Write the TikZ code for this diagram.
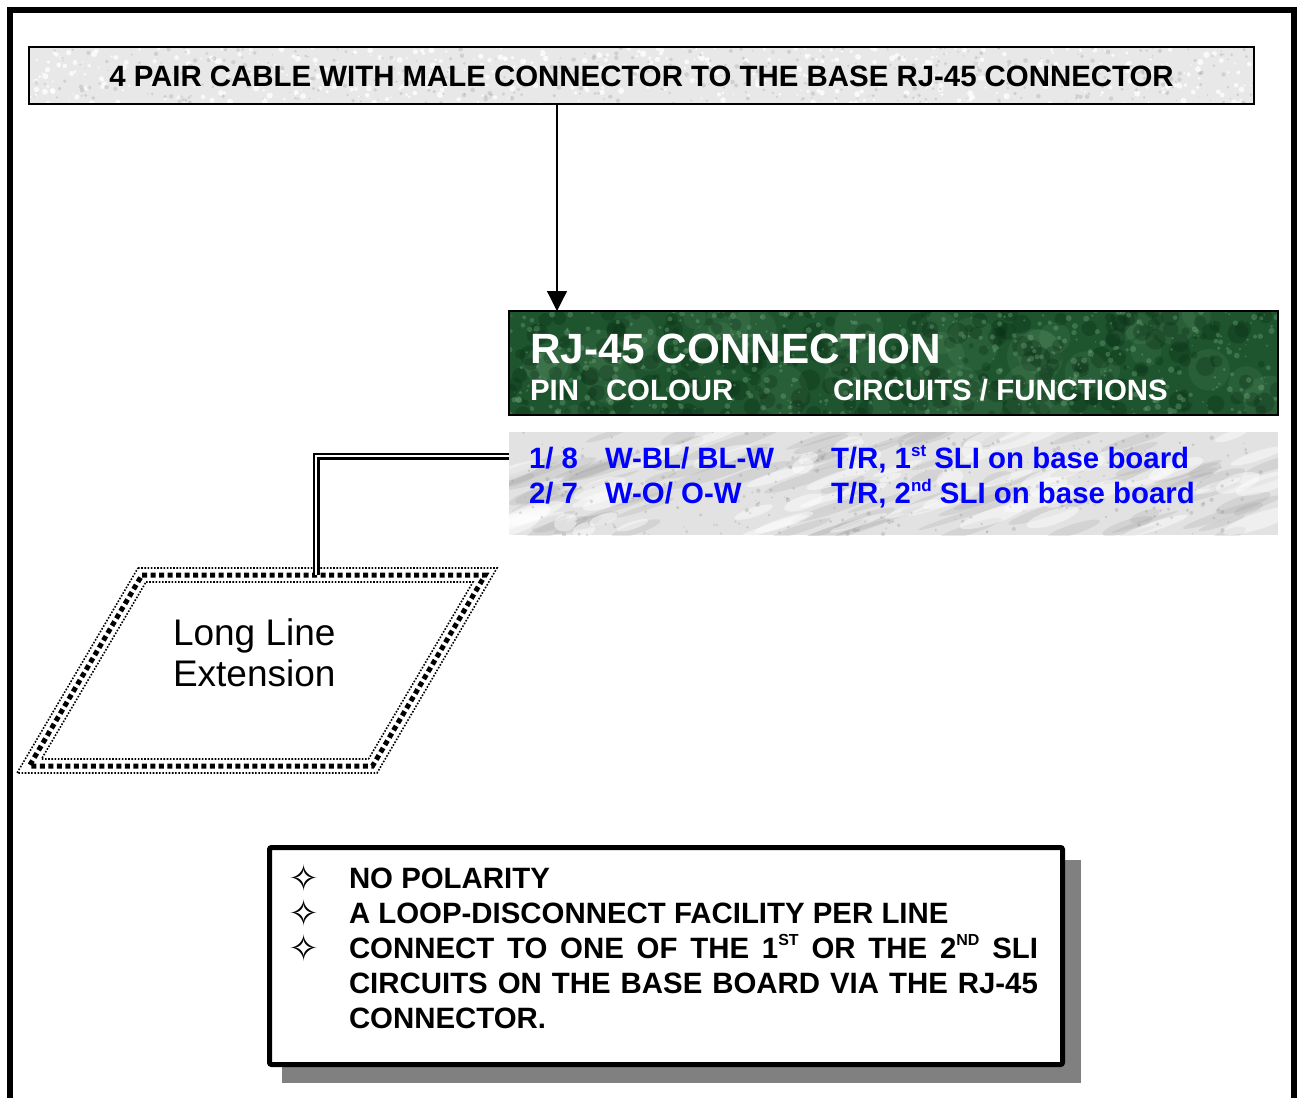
\documentclass[tikz,border=0pt]{standalone}
\usepackage{fontspec}
\setmainfont{Liberation Sans}
\newfontfamily\symfont{DejaVu Sans}
\usetikzlibrary{arrows.meta,calc}
\definecolor{rjgreen}{RGB}{30,84,46}
\definecolor{rjgreenlt}{RGB}{120,175,130}
\definecolor{rjgreendk}{RGB}{8,45,20}
\definecolor{marble}{RGB}{226,226,226}
\definecolor{speck}{RGB}{232,232,232}
\definecolor{rjblue}{RGB}{0,0,255}
\definecolor{shadowgray}{RGB}{128,128,128}
\newcommand\fs[1]{\fontsize{#1}{#1}\selectfont}
\newcommand\supt[1]{\raisebox{12pt}{\fontsize{17}{17}\selectfont #1}}
\newcommand\supc[1]{\raisebox{13pt}{\fontsize{16}{16}\selectfont #1}}
\begin{document}
\begin{tikzpicture}[x=1pt,y=-1pt,
  box/.style={inner sep=0pt, outer sep=0pt},
  txt/.style={inner sep=0pt, outer sep=0pt, anchor=base west},
  bigbold/.style={font=\fs{29.4}\bfseries},
  arr/.style={line width=1.3pt, -{Triangle[length=20pt,width=20pt]}},
  dbl/.style={double=white, double distance=2pt, line width=2.5pt},
  dotline/.style={line width=1.6pt, dash pattern=on 1.6pt off 1.6pt},
  sqline/.style={line width=5pt, dash pattern=on 5pt off 3.5pt}]
\useasboundingbox (0,0) rectangle (1297,1097);
\fill[white] (0,0) rectangle (1297,1097);
% outer frame
\draw[line width=6pt, line join=miter] (10,1100) -- (10,10) -- (1294,10) -- (1294,1100);

% ---------- title box
\node[box, minimum width=1225pt, minimum height=57pt, fill=speck] (title) at (641.5,75.5) {};
\begin{scope}
\clip (title.north west) rectangle (title.south east);
\pgfmathsetseed{11}
\foreach \i in {1,...,500}{
  \pgfmathsetmacro\px{29+1225*rnd}
  \pgfmathsetmacro\py{47+57*rnd}
  \pgfmathsetmacro\rr{0.8+2.4*rnd}
  \fill[white, opacity=.75] (\px,\py) circle[radius=\rr];
}
\foreach \i in {1,...,450}{
  \pgfmathsetmacro\px{29+1225*rnd}
  \pgfmathsetmacro\py{47+57*rnd}
  \pgfmathsetmacro\rr{0.6+1.8*rnd}
  \fill[gray!80, opacity=.3] (\px,\py) circle[radius=\rr];
}
\end{scope}
\draw[line width=1.5pt] (title.north west) rectangle (title.south east);
\node[inner sep=0pt, anchor=base, bigbold] (titletext) at (641.5,87)
  {4 PAIR CABLE WITH MALE CONNECTOR TO THE BASE RJ-45 CONNECTOR};

% ---------- green header
\node[box, minimum width=769pt, minimum height=104pt, fill=rjgreen] (hdr) at (893.5,363) {};
\begin{scope}
\clip (hdr.north west) rectangle (hdr.south east);
\pgfmathsetseed{5}
\foreach \i in {1,...,40}{
  \pgfmathsetmacro\px{509+769*rnd}
  \pgfmathsetmacro\py{311+104*rnd}
  \pgfmathsetmacro\rr{10+18*rnd}
  \fill[rjgreenlt, opacity=.13] (\px,\py) circle[radius=\rr];
}
\foreach \i in {1,...,260}{
  \pgfmathsetmacro\px{509+769*rnd}
  \pgfmathsetmacro\py{311+104*rnd}
  \pgfmathsetmacro\rr{2+9*rnd}
  \fill[rjgreendk, opacity=.3] (\px,\py) circle[radius=\rr];
}
\foreach \i in {1,...,500}{
  \pgfmathsetmacro\px{509+769*rnd}
  \pgfmathsetmacro\py{311+104*rnd}
  \pgfmathsetmacro\rr{0.7+2.5*rnd}
  \fill[rjgreenlt, opacity=.35] (\px,\py) circle[radius=\rr];
}
\end{scope}
\draw[line width=2pt] (hdr.north west) rectangle (hdr.south east);
\node[txt, font=\fs{42.3}\bfseries, text=white] (hdrtitle) at (530,363) {RJ-45 CONNECTION};
\node[txt, bigbold, text=white] (hpin) at (530,400) {PIN};
\node[txt, bigbold, text=white] (hcol) at (606,400) {COLOUR};
\node[txt, bigbold, text=white] (hfun) at (833,400) {CIRCUITS / FUNCTIONS};

% ---------- marble table
\node[box, minimum width=769pt, minimum height=103pt, fill=marble] (marb) at (893.5,483.5) {};
\begin{scope}
\clip (marb.north west) rectangle (marb.south east);
\pgfmathsetseed{23}
\foreach \i in {1,...,90}{
  \pgfmathsetmacro\px{509+769*rnd}
  \pgfmathsetmacro\py{432+103*rnd}
  \pgfmathsetmacro\ra{15+40*rnd}
  \pgfmathsetmacro\rb{2+5*rnd}
  \fill[gray!80, opacity=.2, rotate around={18:(\px,\py)}] (\px,\py) ellipse[x radius=\ra, y radius=\rb];
}
\foreach \i in {1,...,60}{
  \pgfmathsetmacro\px{509+769*rnd}
  \pgfmathsetmacro\py{432+103*rnd}
  \pgfmathsetmacro\ra{10+30*rnd}
  \pgfmathsetmacro\rb{3+6*rnd}
  \fill[white, opacity=.45, rotate around={18:(\px,\py)}] (\px,\py) ellipse[x radius=\ra, y radius=\rb];
}
\foreach \i in {1,...,300}{
  \pgfmathsetmacro\px{509+769*rnd}
  \pgfmathsetmacro\py{432+103*rnd}
  \pgfmathsetmacro\rr{0.6+1.6*rnd}
  \fill[gray, opacity=.25] (\px,\py) circle[radius=\rr];
}
\end{scope}
\begin{scope}[every node/.style={txt, bigbold, text=rjblue}]
\node (r1a) at (529,468) {1/ 8};
\node (r1b) at (605,468) {W-BL/ BL-W};
\node (r1c) at (831,468) {T/R, 1\supt{st} SLI on base board};
\node (r2a) at (529,503) {2/ 7};
\node (r2b) at (605,503) {W-O/ O-W};
\node (r2c) at (831,503) {T/R, 2\supt{nd} SLI on base board};
\end{scope}

% ---------- arrow from title to header
\coordinate (ax) at ($(hdr.north west)+(48,0)$);
\draw[arr] (title.south -| ax) -- (ax);

% ---------- long line extension parallelogram
\draw[dotline] (138,568) -- (497,568) -- (377,773) -- (17,773) -- cycle;
\draw[sqline] (142,575) -- (485.2,575) -- (372.5,766) -- (29.3,766) -- cycle;
\draw[dotline] (146,582) -- (473,582) -- (368.5,759) -- (41.5,759) -- cycle;
\coordinate (pgtop) at (316,575);
\node[txt, font=\fs{37}] (lle1) at (173,645) {Long Line};
\node[txt, font=\fs{37}] (lle2) at (173,686) {Extension};

% ---------- double-line connector
\coordinate (jn) at (316,456);
\draw[dbl] (marb.west |- jn) -- (jn) -- (pgtop);

% ---------- note box
\fill[shadowgray] (282,860) rectangle (1081,1083);
\node[box, minimum width=793pt, minimum height=217pt, fill=white, draw, line width=5pt, rounded corners=2pt] (note) at (666,956) {};
\begin{scope}[every node/.style={txt, bigbold}]
\node (n1) at (349,888) {NO POLARITY};
\node (n2) at (349,923) {A LOOP-DISCONNECT FACILITY PER LINE};
\node (n3) at (349,958) {\makebox[689pt][s]{CONNECT TO ONE OF THE 1\supc{ST} OR THE 2\supc{ND} SLI}};
\node (n4) at (349,993) {\makebox[689pt][s]{CIRCUITS ON THE BASE BOARD VIA THE RJ-45}};
\node (n5) at (349,1028) {CONNECTOR.};
\end{scope}
\begin{scope}[every node/.style={inner sep=0pt, font=\symfont\fs{37}}]
\node (b1) at (304,878) {✧};
\node (b2) at (304,913) {✧};
\node (b3) at (304,948) {✧};
\end{scope}
\end{tikzpicture}
\end{document}
